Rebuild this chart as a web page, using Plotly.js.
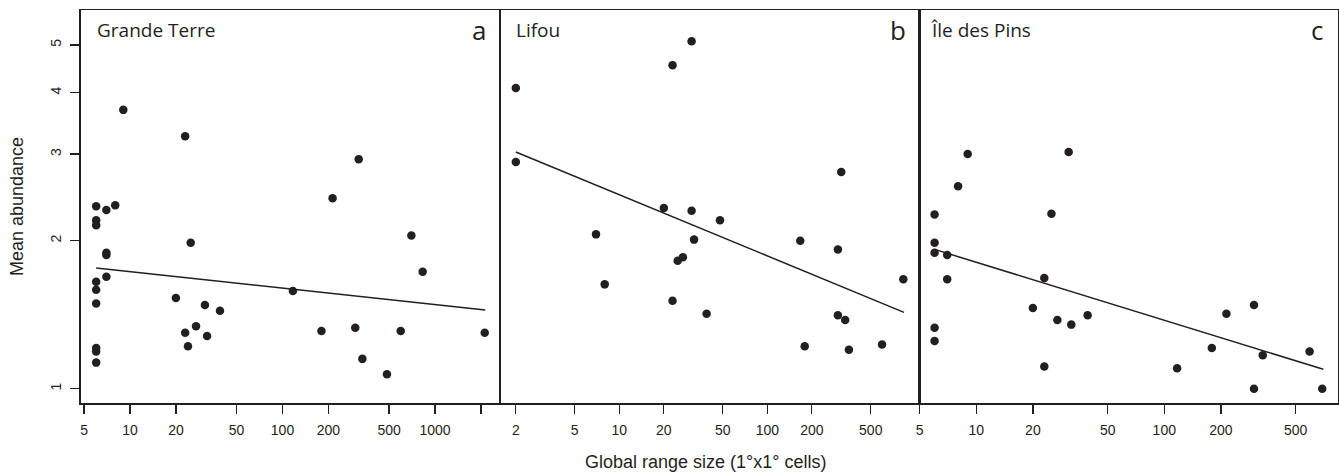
<!DOCTYPE html>
<html>
<head>
<meta charset="utf-8">
<script src="https://cdn.plot.ly/plotly-3.0.1.min.js"></script>
<style>html,body{margin:0;padding:0;background:#fff;}#chart{width:1339px;height:475px;}</style>
</head>
<body>
<div id="chart"></div>
<script>
// ---- data ----
const panelNames = ["Grande Terre", "Lifou", "Île des Pins"];
const panelLetters = ["a", "b", "c"];

const grandeTerreRange = [9.04, 23.0, 316, 213, 700, 6.0, 7.0, 8.0, 6.0, 6.0, 25.0, 7.0, 7.0, 830, 7.0, 6.0, 6.0, 6.0, 20.0, 117, 31, 38.9, 27.1, 23.0, 32, 24, 6.0, 6.0, 6.0, 180, 300, 596, 334, 484, 2118];
const grandeTerreAbund = [3.69, 3.26, 2.93, 2.44, 2.05, 2.35, 2.31, 2.36, 2.20, 2.15, 1.98, 1.89, 1.87, 1.73, 1.69, 1.65, 1.59, 1.49, 1.53, 1.58, 1.48, 1.44, 1.34, 1.30, 1.28, 1.22, 1.21, 1.19, 1.13, 1.31, 1.33, 1.31, 1.15, 1.07, 1.30];

const lifouRange = [2, 22.9, 30.8, 2, 316, 20, 30.8, 47.9, 6.96, 32, 167, 300, 24.8, 26.9, 830, 7.97, 22.9, 38.9, 300, 336, 179, 356, 596];
const lifouAbund = [4.09, 4.55, 5.09, 2.89, 2.76, 2.33, 2.30, 2.20, 2.06, 2.01, 2.00, 1.92, 1.82, 1.85, 1.67, 1.63, 1.51, 1.42, 1.41, 1.38, 1.22, 1.20, 1.23];

const pinsRange = [9.0, 31.0, 8.0, 6.0, 25.1, 6.0, 6.0, 7.0, 7.0, 23.0, 20, 27, 32, 39.1, 6.0, 6.0, 23, 117, 179, 214, 300, 334, 593, 300, 692];
const pinsAbund = [3.00, 3.03, 2.58, 2.26, 2.27, 1.98, 1.89, 1.87, 1.67, 1.68, 1.46, 1.38, 1.35, 1.41, 1.33, 1.25, 1.11, 1.10, 1.21, 1.42, 1.48, 1.17, 1.19, 1.00, 1.00];

// fitted regression line end points
const fitGrandeTerreX = [6.0, 2135];
const fitGrandeTerreY = [1.76, 1.446];
const fitLifouX = [2, 839];
const fitLifouY = [3.03, 1.43];
const fitPinsX = [6, 701];
const fitPinsY = [1.92, 1.095];

// tick labels
const yTicks = [1, 2, 3, 4, 5];
const xTicksA = [5, 10, 20, 50, 100, 200, 500, 1000, 2000];
const xTickTextA = ["5", "10", "20", "50", "100", "200", "500", "1000", ""];
const xTicksB = [2, 5, 10, 20, 50, 100, 200, 500];
const xTicksC = [5, 10, 20, 50, 100, 200, 500];

const xTitle = "Global range size (1°x1° cells)";
const yTitle = "Mean abundance";

// ---- styling ----
const ink = "#231f20";
const W = 1339, H = 475;
const px = v => v / W;
const py = v => 1 - v / H;

function pts(x, y, xa, ya) {
  return {x: x, y: y, xaxis: xa, yaxis: ya, type: "scatter", mode: "markers",
    marker: {size: 8.5, color: ink}, hoverinfo: "x+y", showlegend: false};
}
function fit(x, y, xa, ya) {
  return {x: x, y: y, xaxis: xa, yaxis: ya, type: "scatter", mode: "lines",
    line: {color: ink, width: 1.5}, hoverinfo: "skip", showlegend: false};
}

const data = [
  pts(grandeTerreRange, grandeTerreAbund, "x", "y"),
  fit(fitGrandeTerreX, fitGrandeTerreY, "x", "y"),
  pts(lifouRange, lifouAbund, "x2", "y2"),
  fit(fitLifouX, fitLifouY, "x2", "y2"),
  pts(pinsRange, pinsAbund, "x3", "y3"),
  fit(fitPinsX, fitPinsY, "x3", "y3")
];

const tickFont = {family: "Liberation Sans, Arial, sans-serif", size: 14, color: ink};
const yDomain = [py(403.3), py(10)];
const yRange = [Math.log10(0.934), Math.log10(5.89)];

function xAxis(domain, range, vals, text, anchor) {
  return {type: "log", domain: domain, range: range, anchor: anchor,
    tickmode: "array", tickvals: vals, ticktext: text,
    ticks: "outside", ticklen: 9, tickwidth: 1.3, tickcolor: ink,
    showline: true, mirror: true, linecolor: ink, linewidth: 1.5,
    showgrid: false, zeroline: false, tickfont: tickFont, ticklabelstandoff: 4};
}
function yAxis(anchor, showLabels) {
  return {type: "log", domain: yDomain, range: yRange, anchor: anchor,
    tickmode: "array", tickvals: yTicks, ticktext: yTicks.map(String),
    ticks: showLabels ? "outside" : "", ticklen: 9, tickwidth: 1.3, tickcolor: ink,
    showticklabels: showLabels, tickangle: -90,
    showline: true, mirror: true, linecolor: ink, linewidth: 1.5,
    showgrid: false, zeroline: false, tickfont: tickFont, ticklabelstandoff: 4};
}

const labelFont = {family: "Open Sans, Noto Sans, sans-serif", size: 19, color: ink};
const letterFont = {family: "Open Sans, Noto Sans, sans-serif", size: 26, color: ink};
const titleFont = {family: "Liberation Sans, Arial, sans-serif", size: 18, color: ink};

const nameX = [95, 513.5, 929];
const letterX = [488, 908, 1325];

const annotations = [];
panelNames.forEach((n, i) => {
  annotations.push({text: n, xref: "paper", yref: "paper", x: px(nameX[i]), y: py(30.3),
    xanchor: "left", yanchor: "middle", showarrow: false, font: labelFont});
  annotations.push({text: panelLetters[i], xref: "paper", yref: "paper", x: px(letterX[i]), y: py(30),
    xanchor: "right", yanchor: "middle", showarrow: false, font: letterFont});
});
annotations.push({text: xTitle, xref: "paper", yref: "paper", x: px(706), y: py(462),
  xanchor: "center", yanchor: "middle", showarrow: false, font: titleFont});
annotations.push({text: yTitle, xref: "paper", yref: "paper", x: px(17), y: py(207),
  xanchor: "center", yanchor: "middle", textangle: -90, showarrow: false, font: titleFont});

const layout = {
  width: W, height: H,
  margin: {l: 0, r: 0, t: 0, b: 0},
  paper_bgcolor: "#fff", plot_bgcolor: "#fff",
  showlegend: false,
  xaxis: xAxis([px(80.7), px(499)], [0.6767, 3.4197], xTicksA, xTickTextA, "y"),
  xaxis2: xAxis([px(500), px(919)], [0.194, 3.025], xTicksB, xTicksB.map(String), "y2"),
  xaxis3: xAxis([px(919), px(1338)], [0.6952, 2.924], xTicksC, xTicksC.map(String), "y3"),
  yaxis: yAxis("x", true),
  yaxis2: yAxis("x2", false),
  yaxis3: yAxis("x3", false),
  annotations: annotations
};

Plotly.newPlot("chart", data, layout, {displayModeBar: false, staticPlot: true});
</script>
</body>
</html>
